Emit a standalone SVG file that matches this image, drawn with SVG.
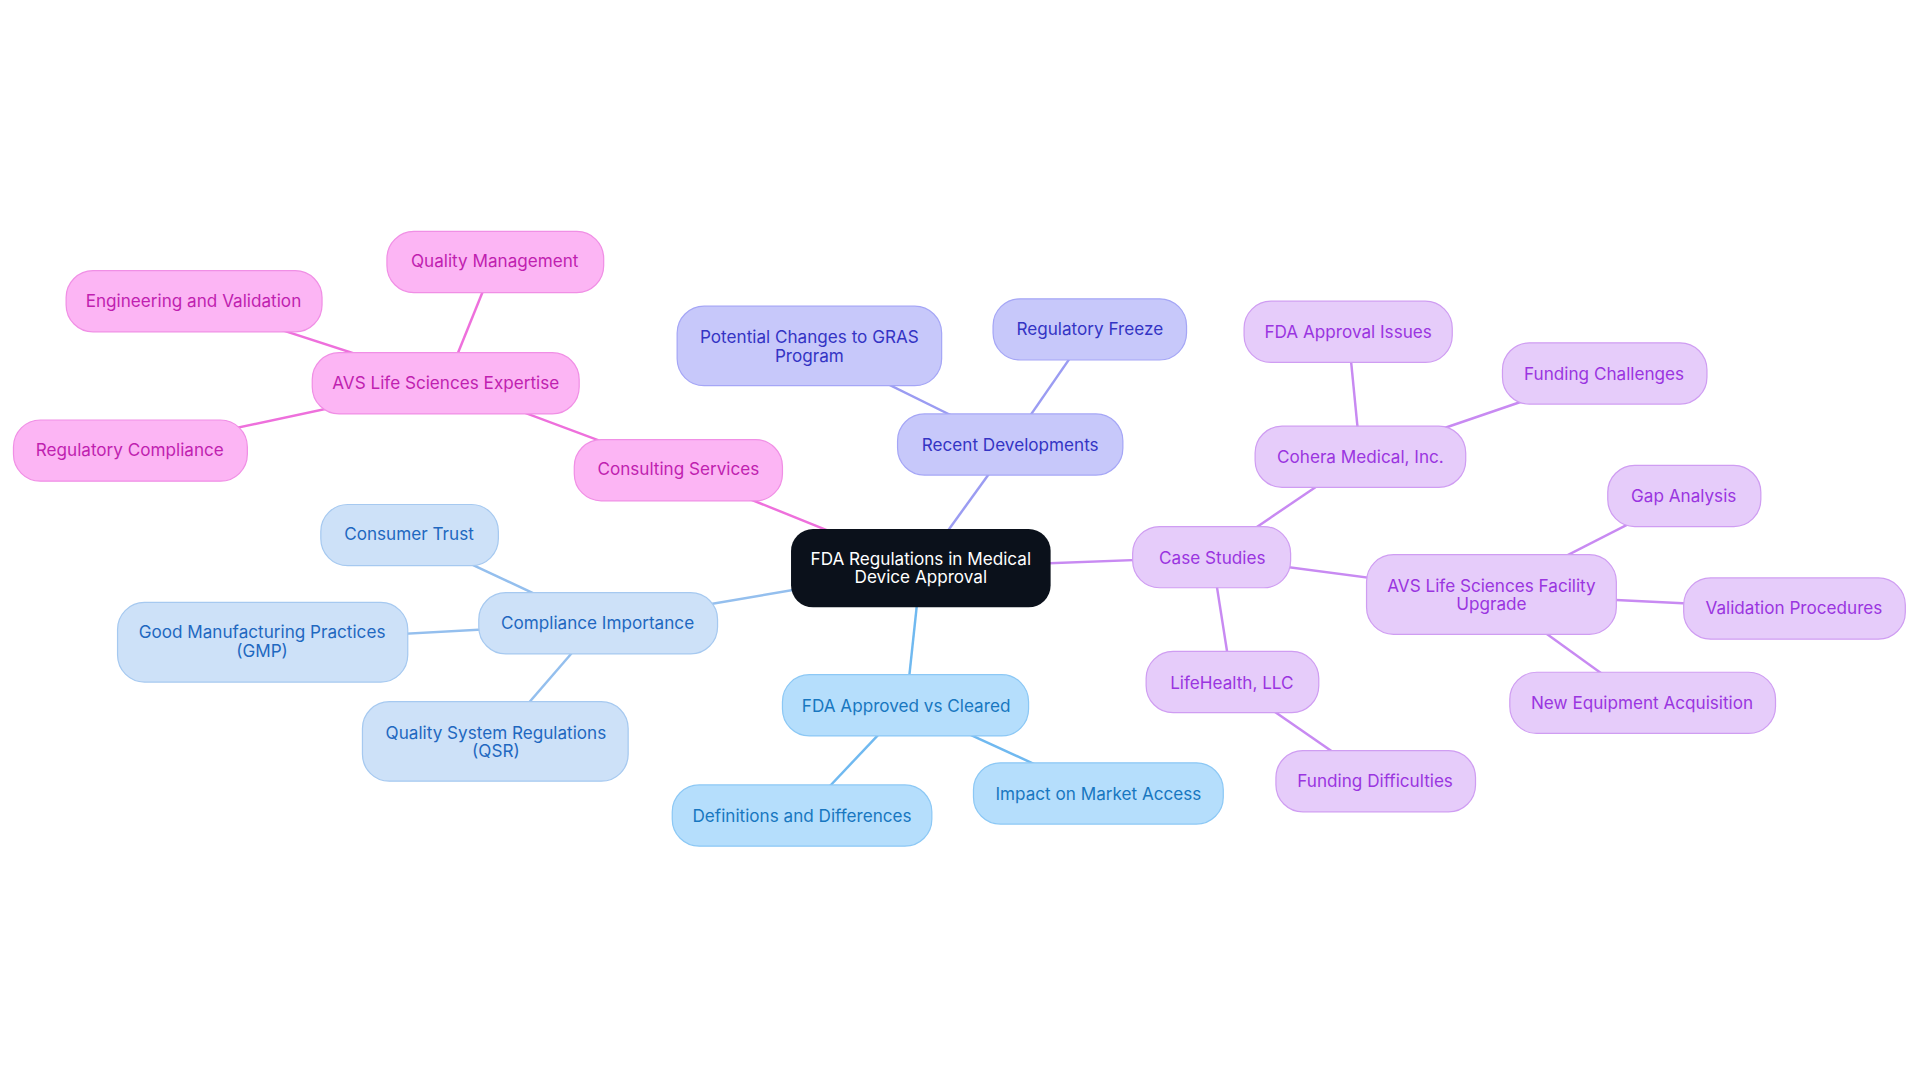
<svg xmlns="http://www.w3.org/2000/svg" width="1920" height="1083" viewBox="0 0 1920 1083">
<style>
text{font-family:Inter,"Liberation Sans",sans-serif;font-size:14px;text-anchor:middle;dominant-baseline:central}
.b rect{fill:#c7c8fa;stroke:#a5a6f6}.b text{fill:#3434c4}
.p rect{fill:#e6ccfa;stroke:#cf9df2}.p text{fill:#9a35e0}
.s rect{fill:#b5defc;stroke:#8cc8f5}.s text{fill:#1877c0}
.c rect{fill:#cde1f8;stroke:#a6c9f0}.c text{fill:#1f68c0}
.k rect{fill:#fcb5f4;stroke:#f08fe5}.k text{fill:#c01fb0}
#edges line{stroke-width:2}
</style>
<rect width="1920" height="1083" fill="#fff"/>
<g transform="scale(1.2245)">
<g id="edges">
<g stroke="#9b9cf2"><line x1="752" y1="464" x2="825" y2="363"/><line x1="825" y1="363" x2="661" y2="282"/><line x1="825" y1="363" x2="890" y2="269"/></g>
<g stroke="#c88af2"><line x1="752" y1="464" x2="990" y2="455"/><line x1="990" y1="455" x2="1111" y2="373"/><line x1="1111" y1="373" x2="1101" y2="271"/><line x1="1111" y1="373" x2="1310" y2="305"/><line x1="990" y1="455" x2="1218" y2="485"/><line x1="1218" y1="485" x2="1375" y2="405"/><line x1="1218" y1="485" x2="1465" y2="497"/><line x1="1218" y1="485" x2="1341" y2="574"/><line x1="990" y1="455" x2="1006" y2="557"/><line x1="1006" y1="557" x2="1123" y2="638"/></g>
<g stroke="#70b9f0"><line x1="752" y1="464" x2="740" y2="576"/><line x1="740" y1="576" x2="655" y2="666"/><line x1="740" y1="576" x2="897" y2="648"/></g>
<g stroke="#94bfee"><line x1="752" y1="464" x2="488" y2="509"/><line x1="488" y1="509" x2="334" y2="437"/><line x1="488" y1="509" x2="214" y2="524"/><line x1="488" y1="509" x2="405" y2="605"/></g>
<g stroke="#ee70dc"><line x1="752" y1="464" x2="554" y2="384"/><line x1="554" y1="384" x2="364" y2="313"/><line x1="364" y1="313" x2="404" y2="214"/><line x1="364" y1="313" x2="158" y2="246"/><line x1="364" y1="313" x2="106" y2="368"/></g>
</g>
<g id="center"><rect x="646" y="432" width="212" height="64" rx="18" fill="#0b111b"/><text x="752" y="456" fill="#fff">FDA Regulations in Medical</text><text x="752" y="471" fill="#fff">Device Approval</text></g>
<g id="n1" class="b"><rect x="733" y="338" width="184" height="50" rx="22"/><text x="825" y="363">Recent Developments</text></g>
<g id="n2" class="b"><rect x="553" y="250" width="216" height="65" rx="22"/><text x="661" y="275">Potential Changes to GRAS</text><text x="661" y="290">Program</text></g>
<g id="n3" class="b"><rect x="811" y="244" width="158" height="50" rx="22"/><text x="890" y="268">Regulatory Freeze</text></g>
<g id="n4" class="p"><rect x="925" y="430" width="129" height="50" rx="22"/><text x="990" y="455">Case Studies</text></g>
<g id="n5" class="p"><rect x="1025" y="348" width="172" height="50" rx="22"/><text x="1111" y="373">Cohera Medical, Inc.</text></g>
<g id="n6" class="p"><rect x="1016" y="246" width="170" height="50" rx="22"/><text x="1101" y="271">FDA Approval Issues</text></g>
<g id="n7" class="p"><rect x="1227" y="280" width="167" height="50" rx="22"/><text x="1310" y="305">Funding Challenges</text></g>
<g id="n8" class="p"><rect x="1116" y="453" width="204" height="65" rx="22"/><text x="1218" y="478">AVS Life Sciences Facility</text><text x="1218" y="493">Upgrade</text></g>
<g id="n9" class="p"><rect x="1313" y="380" width="125" height="50" rx="22"/><text x="1375" y="405">Gap Analysis</text></g>
<g id="n10" class="p"><rect x="1375" y="472" width="181" height="50" rx="22"/><text x="1465" y="496">Validation Procedures</text></g>
<g id="n11" class="p"><rect x="1233" y="549" width="217" height="50" rx="22"/><text x="1341" y="574">New Equipment Acquisition</text></g>
<g id="n12" class="p"><rect x="936" y="532" width="141" height="50" rx="22"/><text x="1006" y="557">LifeHealth, LLC</text></g>
<g id="n13" class="p"><rect x="1042" y="613" width="163" height="50" rx="22"/><text x="1123" y="637">Funding Difficulties</text></g>
<g id="n14" class="s"><rect x="639" y="551" width="201" height="50" rx="22"/><text x="740" y="576">FDA Approved vs Cleared</text></g>
<g id="n15" class="s"><rect x="549" y="641" width="212" height="50" rx="22"/><text x="655" y="666">Definitions and Differences</text></g>
<g id="n16" class="s"><rect x="795" y="623" width="204" height="50" rx="22"/><text x="897" y="648">Impact on Market Access</text></g>
<g id="n17" class="c"><rect x="391" y="484" width="195" height="50" rx="22"/><text x="488" y="508">Compliance Importance</text></g>
<g id="n18" class="c"><rect x="262" y="412" width="145" height="50" rx="22"/><text x="334" y="436">Consumer Trust</text></g>
<g id="n19" class="c"><rect x="96" y="492" width="237" height="65" rx="22"/><text x="214" y="516">Good Manufacturing Practices</text><text x="214" y="531">(GMP)</text></g>
<g id="n20" class="c"><rect x="296" y="573" width="217" height="65" rx="22"/><text x="405" y="598">Quality System Regulations</text><text x="405" y="613">(QSR)</text></g>
<g id="n21" class="k"><rect x="469" y="359" width="170" height="50" rx="22"/><text x="554" y="383">Consulting Services</text></g>
<g id="n22" class="k"><rect x="255" y="288" width="218" height="50" rx="22"/><text x="364" y="312">AVS Life Sciences Expertise</text></g>
<g id="n23" class="k"><rect x="316" y="189" width="177" height="50" rx="22"/><text x="404" y="213">Quality Management</text></g>
<g id="n24" class="k"><rect x="54" y="221" width="209" height="50" rx="22"/><text x="158" y="245">Engineering and Validation</text></g>
<g id="n25" class="k"><rect x="11" y="343" width="191" height="50" rx="22"/><text x="106" y="367">Regulatory Compliance</text></g>
</g>
</svg>
